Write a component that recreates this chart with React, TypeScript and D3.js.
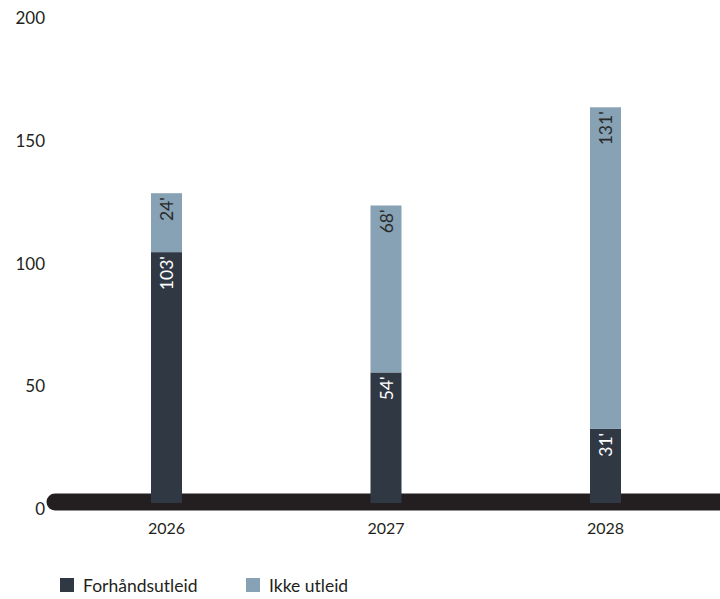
import React from "react";
import * as d3 from "d3";

const years = ["2026", "2027", "2028"];
const forhandsutleid = [103, 54, 31];
const ikkeUtleid = [24, 68, 131];
const yTicks = [0, 50, 100, 150, 200];
const seriesNames = ["Forhåndsutleid", "Ikke utleid"];

const W = 720;
const H = 599;
const DARK = "#303844";
const LIGHT = "#86a2b4";
const LINE = "#231f20";
const FONT = "Lato, 'Open Sans', sans-serif";

export default function App() {
  const x = d3.scalePoint<string>().domain(years).range([166.5, 605.5]);
  const y = d3.scaleLinear().domain([0, 200]).range([505, 14]);
  const barW = 31;

  const rows = years.map((yr, i) => ({ year: yr, a: forhandsutleid[i], b: ikkeUtleid[i] }));
  const stack = d3.stack<any>().keys(["a", "b"])(rows);
  const colors = [DARK, LIGHT];
  const labelColors = ["#ffffff", "#2a2a2a"];

  return (
    <svg width={W} height={H} style={{ position: "absolute", left: 0, top: 0, background: "#fff" }}>
      {yTicks.map((t) => (
        <text key={t} x={45} y={y(t)} dy={10} textAnchor="end" fontFamily={FONT} fontSize={17} fill="#231f20">
          {t}
        </text>
      ))}
      <line x1={55} x2={W + 20} y1={y(0) - 3} y2={y(0) - 3} stroke={LINE} strokeWidth={17} strokeLinecap="round" />
      {stack.map((layer, li) =>
        layer.map((d, i) => {
          const yr = years[i];
          const cx = x(yr)!;
          const top = y(d[1]);
          const bottom = li === 0 ? y(d[0]) - 2 : y(d[0]);
          const val = li === 0 ? forhandsutleid[i] : ikkeUtleid[i];
          return (
            <g key={`${li}-${i}`}>
              <rect x={cx - barW / 2} y={top} width={barW} height={bottom - top} fill={colors[li]} />
              <text
                transform={`translate(${cx + 6.5},${top + 4}) rotate(-90)`}
                textAnchor="end"
                fontFamily={FONT}
                fontSize={17.5}
                fill={labelColors[li]}
              >
                {`${val}'`}
              </text>
            </g>
          );
        })
      )}
      {years.map((yr) => (
        <text key={yr} x={x(yr)!} y={534} textAnchor="middle" fontFamily={FONT} fontSize={16} fill="#231f20">
          {yr}
        </text>
      ))}
      {seriesNames.map((name, i) => {
        const lx = [60, 246][i];
        return (
          <g key={name}>
            <rect x={lx} y={578} width={14} height={14} fill={colors[i]} />
            <text x={lx + 23} y={592} fontFamily={FONT} fontSize={17.5} fill="#231f20">
              {name}
            </text>
          </g>
        );
      })}
    </svg>
  );
}
